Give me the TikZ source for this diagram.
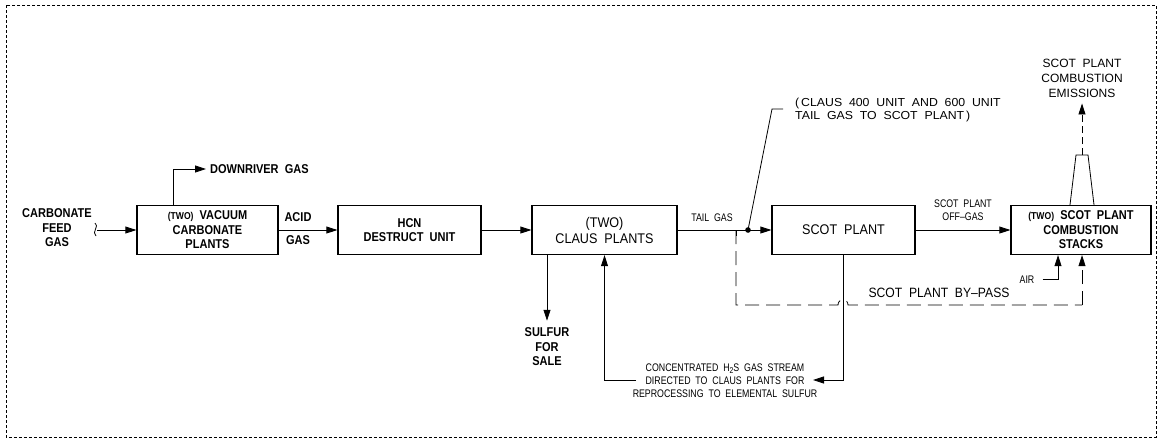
\documentclass[tikz,border=0pt]{standalone}
\usepackage{fontspec}
\setmainfont{Liberation Sans}
\newfontfamily\cadfont[FakeStretch=0.8]{Liberation Sans}
\newfontfamily\cadwide[FakeStretch=0.9]{Liberation Sans}
\newfontfamily\cadext[FakeStretch=1.06]{Liberation Sans}
\newfontfamily\boldfam[FakeStretch=0.86]{Liberation Sans}
\usetikzlibrary{arrows.meta}
\begin{document}
\begin{tikzpicture}[x=1pt,y=-1pt,
  box/.style={draw, line width=1.3pt, minimum height=49pt, inner sep=0pt, align=center},
  ln/.style={line width=0.8pt},
  arr/.style={line width=0.8pt, -{Triangle[length=11pt,width=7pt]}},
  bl/.style={font=\boldfam\bfseries\fontsize{12.8}{14.5}\selectfont, align=center, inner sep=0pt},
  cad/.style={font=\cadwide\fontsize{14}{16}\selectfont, align=center, inner sep=0pt},
  sm/.style={font=\cadfont\fontsize{11}{13.5}\selectfont, align=center, inner sep=0pt},
  bp/.style={line width=0.8pt, dash pattern=on 14pt off 7pt}]
\useasboundingbox (0,0) rectangle (1159,440);
\draw[line width=0.8pt, dash pattern=on 3pt off 2pt] (6,5) rectangle (1156,437);

% boxes
\node[box, bl, minimum width=141pt] (b1) at (207.5,230) {{\fontsize{10}{12}\selectfont(TWO)}\ \ VACUUM\\CARBONATE\\PLANTS};
\node[box, bl, minimum width=143pt] (b2) at (409.5,230) {HCN\\DESTRUCT\ \ UNIT};
\node[box, cad, minimum width=145pt] (b3) at (604.5,230) {(TWO)\\CLAUS\ \ PLANTS};
\node[box, cad, minimum width=143pt] (b4) at (843.5,230) {SCOT\ \ PLANT};
\node[box, bl, minimum width=140pt] (b5) at (1081,230) {{\fontsize{10}{12}\selectfont(TWO)}\ \ SCOT\ \ PLANT\\COMBUSTION\\STACKS};

% feed
\node[bl] (feed) at (57,228) {CARBONATE\\FEED\\GAS};
\coordinate (fw) at (97,230);
\draw[ln] (95,223) .. controls (100,226) and (91,232) .. (96,236);
\draw[arr] (fw) -- (b1.west);

% downriver
\node[bl, anchor=west] (dwn) at (210,169) {DOWNRIVER\ \ GAS};
\coordinate (drx) at (173,169);
\draw[arr] (drx |- b1.north) -- (drx) -- ([xshift=-4pt]dwn.west);

% acid gas
\node[bl] (acid1) at (298,217) {ACID};
\node[bl] (acid2) at (298,240) {GAS};
\draw[arr] (b1.east) -- (b2.west);
\draw[arr] (b2.east) -- (b3.west);

% sulfur
\node[bl] (sulf) at (547,347) {SULFUR\\FOR\\SALE};
\draw[arr] (b3.south -| sulf) -- ([yshift=7pt]sulf.north);

% recycle
\node[sm, font=\cadfont\fontsize{11}{13}\selectfont] (conc) at (725,381) {CONCENTRATED\ \ H\raisebox{-2pt}{\fontsize{8.5}{9}\selectfont 2}S\ \ GAS\ \ STREAM\\DIRECTED\ \ TO\ \ CLAUS\ \ PLANTS\ \ FOR\\REPROCESSING\ \ TO\ \ ELEMENTAL\ \ SULFUR};
\coordinate (rl) at (636,380);
\coordinate (rr) at (813,380);
\draw[arr] (rl) -- (rl -| b3.south) -- (b3.south);
\draw[arr] (b4.south) |- (rr);

% tail gas
\draw[arr] (b3.east) -- (b4.west);
\coordinate (td) at (748,230);
\fill (td) circle (2.8pt);
\node[sm] (tail) at (712,218) {TAIL\ \ GAS};
\coordinate (ld) at (772,109);
\draw[ln] (td) -- (ld) -- ([xshift=11pt]ld);
\node[sm, align=left, anchor=west, font=\cadext\fontsize{11.6}{12.5}\selectfont] (claus) at (795,110) {(\,CLAUS\ \ 400\ \ UNIT\ \ AND\ \ 600\ \ UNIT\\TAIL\ \ GAS\ \ TO\ \ SCOT\ \ PLANT\,)};

% bypass
\coordinate (bpa) at (736,230);
\coordinate (bx) at (1082,305);
\draw[ln] (bpa) -- ++(0,6);
\draw[bp] (bpa) -- (736,305) -- (838,305) .. controls (838,298) and (848,298) .. (848,305) -- (bx);
\draw[bp, -{Triangle[length=11pt,width=7pt]}] (bx) -- (bx |- b5.south);
\node[cad, font=\cadwide\fontsize{13.5}{14}\selectfont] (byp) at (939,293) {SCOT\ \ PLANT\ \ BY–PASS};

% off-gas
\node[sm] (off) at (963,210) {SCOT\ \ PLANT\\OFF–GAS};
\draw[arr] (b4.east) -- (b5.west);

% air
\node[sm] (air) at (1027,280) {AIR};
\coordinate (ax) at (1058,279);
\draw[arr] ([xshift=8pt]air.east |- ax) -- (ax) -- (ax |- b5.south);

% stack
\draw[ln] ([xshift=-11pt]b5.north) -- (1076,155) -- (1088,155) -- ([xshift=13pt]b5.north);
\coordinate (st) at (1082,155);
\node[sm, font=\fontsize{12}{15}\selectfont] (emis) at (1082,78) {SCOT\ \ PLANT\\COMBUSTION\\EMISSIONS};
\draw[line width=0.8pt, dash pattern=on 7pt off 4pt, -{Triangle[length=11pt,width=7pt]}] (st) -- ([yshift=-6pt]emis.south);
\end{tikzpicture}
\end{document}
